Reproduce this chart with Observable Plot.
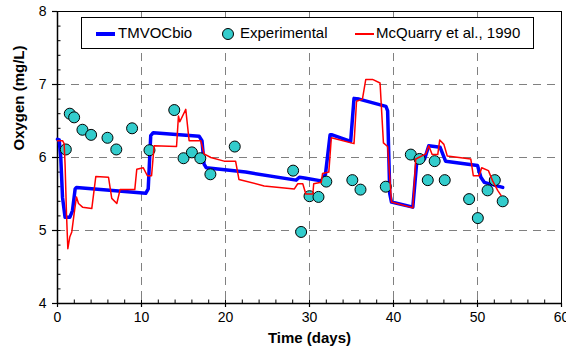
<!DOCTYPE html>
<html><head><meta charset="utf-8">
<script src="https://cdn.jsdelivr.net/npm/d3@7"></script>
<script src="https://cdn.jsdelivr.net/npm/@observablehq/plot@0.6"></script>
<style>
body{margin:0;background:#fff;}
#wrap{position:relative;width:566px;height:354px;font-family:"Liberation Sans",Arial,sans-serif;color:#000;}
#legend{position:absolute;left:81px;top:17px;width:451px;height:30px;border:1px solid #000;background:#fff;font-size:15px;}
#legend .it{position:absolute;top:6px;line-height:18px;white-space:nowrap;}
#legend .ln{position:absolute;}
#legend .dot{position:absolute;width:10px;height:10px;border-radius:50%;border:1px solid #000;background:#33cccc;}
</style></head>
<body><div id="wrap"><div id="chart"></div>
<div id="legend">
<div class="ln" style="left:14px;top:14px;width:19px;height:4px;background:#0000ff;"></div>
<span class="it" style="left:36px;">TMVOCbio</span>
<div class="dot" style="left:140px;top:10px;"></div>
<span class="it" style="left:158px;">Experimental</span>
<div class="ln" style="left:273px;top:15px;width:19px;height:2px;background:#ff0000;"></div>
<span class="it" style="left:294px;">McQuarry et al., 1990</span>
</div></div>
<script>
// TMVOCbio simulation
const tmvocX = [0,0.2,0.39,0.6,0.9,1.46,1.78,2.1,2.26,10.5,10.8,11.1,11.4,16.86,17.2,17.45,17.7,22.4,28.4,28.8,29.4,31.4,31.9,32.45,32.7,34.9,35.3,35.9,39.1,39.3,39.56,39.76,42.3,42.8,43.7,44.2,45.55,46.2,50.0,50.4,50.8,53.0];
const tmvocY = [6.25,6.24,6.0,5.45,5.18,5.18,5.27,5.57,5.59,5.51,5.57,6.30,6.34,6.29,6.23,5.91,5.86,5.80,5.69,5.73,5.72,5.68,5.77,6.31,6.31,6.22,6.81,6.80,6.70,6.64,5.50,5.39,5.32,5.98,5.98,6.16,6.14,5.95,5.89,5.73,5.66,5.59];
// Experimental data
const expX = [0.99,1.46,1.98,2.97,4.0,5.95,7.0,8.88,10.95,13.9,15.0,16.0,17.0,18.2,21.1,28.05,29.0,30.0,31.07,32.0,35.1,36.07,39.08,42.06,43.1,44.08,44.9,46.1,49.0,50.04,51.2,52.06,53.0];
const expY = [6.11,6.60,6.55,6.38,6.31,6.27,6.11,6.40,6.10,6.65,5.99,6.07,5.99,5.77,6.15,5.82,4.98,5.47,5.46,5.67,5.69,5.56,5.60,6.04,5.98,5.69,5.95,5.69,5.43,5.17,5.55,5.69,5.40];
// McQuarry et al., 1990
const mcqX = [0,0.6,0.79,0.9,1.07,1.23,1.46,1.7,1.98,2.26,2.5,2.98,4.08,4.56,6.07,6.46,7.06,7.45,9.2,9.44,10.2,10.7,11.2,11.5,14.17,14.4,14.56,15.27,15.67,17.06,17.45,18.25,19.83,21.2,21.6,24.6,28.2,28.6,29.2,29.56,30.4,30.5,31.4,31.55,32.3,32.6,35.3,35.6,36.3,36.7,37.5,38.4,38.8,39.3,39.76,42.3,42.65,43.85,44.2,44.6,45.27,45.5,46.0,46.4,49.2,49.5,50.2,50.5,51.3,51.8,52.4,52.8];
const mcqY = [6.23,6.23,6.19,5.91,5.23,4.75,4.91,4.98,5.23,5.46,5.37,5.32,5.30,5.74,5.73,5.44,5.37,5.56,5.56,5.84,5.86,5.75,5.75,6.16,6.15,6.57,6.49,6.66,6.23,6.23,6.05,6.0,5.95,5.95,5.70,5.61,5.57,5.64,5.64,5.50,5.50,5.64,5.66,5.78,5.80,6.27,6.19,6.77,6.80,7.07,7.07,7.02,6.20,6.15,5.39,5.31,5.98,6.05,6.16,6.04,6.04,6.24,6.18,6.02,5.98,5.75,5.75,5.86,5.82,5.68,5.55,5.48];
// ticks
const xTicks = [0,10,20,30,40,50,60];
const xMinor = [0,2,4,6,8,10,12,14,16,18,20,22,24,26,28,30,32,34,36,38,40,42,44,46,48,50,52,54,56,58,60];
const yTicks = [4,5,6,7,8];
const yMinor = [4,4.2,4.4,4.6,4.8,5,5.2,5.4,5.6,5.8,6,6.2,6.4,6.6,6.8,7,7.2,7.4,7.6,7.8,8];
const xGrid = [10,20,30,40,50];
const yGrid = [5,6,7];
const xTitle = "Time (days)";
const yTitle = "Oxygen (mg/L)";

const tmvoc = tmvocX.map((x,i)=>({x, y: tmvocY[i]}));
const exp = expX.map((x,i)=>({x, y: expY[i]}));
const mcq = mcqX.map((x,i)=>({x, y: mcqY[i]}));

const chart = Plot.plot({
  width: 566, height: 354,
  marginLeft: 57, marginRight: 5, marginTop: 11, marginBottom: 51,
  x: {domain: [0, 60]},
  y: {domain: [4, 8]},
  style: {fontFamily: "'Liberation Sans', Arial, sans-serif", fontSize: "14px", color: "#000", background: "#fff", overflow: "visible"},
  marks: [
    Plot.gridX(xGrid, {stroke: "#808080", strokeOpacity: 1, strokeDasharray: "8,6"}),
    Plot.gridY(yGrid, {stroke: "#808080", strokeOpacity: 1, strokeDasharray: "8,6"}),
    Plot.frame({stroke: "#000"}),
    Plot.axisX(xTicks, {tickSize: 4, tickPadding: 5, tickFormat: d => String(d), label: null, stroke: "#000", strokeWidth: 1.2}),
    Plot.axisX(xMinor, {tickSize: -3.5, tickFormat: () => "", label: null, stroke: "#000"}),
    Plot.axisY(yTicks, {tickSize: 5, tickPadding: 6, tickFormat: d => String(d), label: null, stroke: "#000", strokeWidth: 1.2}),
    Plot.axisY(yMinor, {tickSize: -3.5, tickFormat: () => "", label: null, stroke: "#000"}),
    Plot.ruleY([4], {stroke: "#000", strokeWidth: 1.5}),
    Plot.ruleX([0], {stroke: "#000", strokeWidth: 1.5}),
    Plot.line(tmvoc, {x: "x", y: "y", stroke: "#0000ff", strokeWidth: 3.5}),
    Plot.dot(exp, {x: "x", y: "y", r: 5.5, fill: "#33cccc", fillOpacity: 1, stroke: "#000", strokeWidth: 1}),
    Plot.line(mcq, {x: "x", y: "y", stroke: "#ff0000", strokeWidth: 1.5}),
    Plot.text([xTitle], {frameAnchor: "bottom", dy: 39, text: d => d, fontWeight: "bold", fontSize: 15, fill: "#000", style: "letter-spacing:0.8px"}),
    Plot.text([yTitle], {frameAnchor: "left", dx: -38, dy: -7, rotate: -90, text: d => d, fontWeight: "bold", fontSize: 15, fill: "#000"})
  ]
});
document.getElementById("chart").appendChild(chart);
</script>
</body></html>
